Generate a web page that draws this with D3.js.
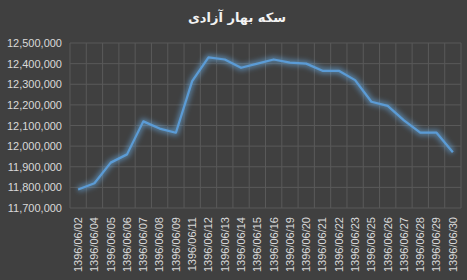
<!DOCTYPE html>
<html>
<head>
<meta charset="utf-8">
<script src="https://cdn.jsdelivr.net/npm/d3@7"></script>
<style>
  body { margin: 0; background: #404040; }
  .tick-label { font-family: "Liberation Sans", Arial, sans-serif; font-size: 11px; fill: #d9d9d9; }
  .title { font-family: "DejaVu Sans", sans-serif; font-size: 13px; font-weight: bold; fill: #f2f2f2; }
</style>
</head>
<body>
<div id="chart"></div>
<script>
// Dates (Jalali) shown on the x axis
const dates = ['1396/06/02', '1396/06/04', '1396/06/05', '1396/06/06', '1396/06/07', '1396/06/08',
  '1396/06/09', '1396/06/11', '1396/06/12', '1396/06/13', '1396/06/14', '1396/06/15',
  '1396/06/16', '1396/06/19', '1396/06/20', '1396/06/21', '1396/06/22', '1396/06/23',
  '1396/06/25', '1396/06/26', '1396/06/27', '1396/06/28', '1396/06/29', '1396/06/30'];

// Coin price (Rial)
const prices = [11790000, 11820000, 11920000, 11960000, 12120000, 12085000,
  12065000, 12315000, 12430000, 12420000, 12380000, 12400000,
  12420000, 12405000, 12400000, 12365000, 12365000, 12320000,
  12215000, 12195000, 12125000, 12065000, 12065000, 11970000];

const yTicks = [11700000, 11800000, 11900000, 12000000, 12100000, 12200000, 12300000, 12400000, 12500000];
const chartTitle = 'سکه بهار آزادی';

const width = 467, height = 280;
const margin = { top: 43, right: 6, bottom: 72, left: 70 };
const innerW = width - margin.left - margin.right;
const innerH = height - margin.top - margin.bottom;

const svg = d3.select('#chart').append('svg')
  .attr('width', width)
  .attr('height', height);

svg.append('rect')
  .attr('width', width)
  .attr('height', height)
  .attr('fill', '#404040');

// soft glow round the line
const defs = svg.append('defs');
defs.append('filter')
  .attr('id', 'glow')
  .attr('x', '-20%').attr('y', '-30%')
  .attr('width', '140%').attr('height', '160%')
  .append('feGaussianBlur')
  .attr('stdDeviation', 2.8);

svg.append('text')
  .attr('class', 'title')
  .attr('x', 237)
  .attr('y', 22)
  .attr('text-anchor', 'middle')
  .attr('direction', 'rtl')
  .text(chartTitle);

const g = svg.append('g')
  .attr('transform', `translate(${margin.left},${margin.top})`);

const x = d3.scaleBand()
  .domain(dates)
  .range([0, innerW]);

const y = d3.scaleLinear()
  .domain([11700000, 12500000])
  .range([innerH, 0]);

// horizontal grid
g.selectAll('.hgrid')
  .data(yTicks)
  .join('line')
  .attr('x1', 0).attr('x2', innerW)
  .attr('y1', d => y(d)).attr('y2', d => y(d))
  .attr('stroke', '#595959')
  .attr('stroke-width', 1);

// vertical grid at category boundaries
const bounds = dates.map(d => x(d)).concat([innerW]);
g.selectAll('.vgrid')
  .data(bounds)
  .join('line')
  .attr('x1', d => d).attr('x2', d => d)
  .attr('y1', 0).attr('y2', innerH)
  .attr('stroke', '#595959')
  .attr('stroke-width', 1);

// y axis labels
const yAxis = d3.axisLeft(y)
  .tickValues(yTicks)
  .tickSize(0)
  .tickPadding(8)
  .tickFormat(d3.format(','));
const yg = g.append('g').call(yAxis);
yg.select('.domain').remove();
yg.selectAll('text').attr('class', 'tick-label').attr('fill', null).attr('font-size', null).attr('font-family', null);

// x axis labels, rotated
const xAxis = d3.axisBottom(x).tickSize(0).tickPadding(0);
const xg = g.append('g')
  .attr('transform', `translate(0,${innerH})`)
  .call(xAxis);
xg.select('.domain').remove();
xg.selectAll('text')
  .attr('class', 'tick-label')
  .attr('fill', null).attr('font-size', null).attr('font-family', null)
  .attr('transform', 'rotate(-90)')
  .attr('text-anchor', 'end')
  .attr('x', -9)
  .attr('y', 0)
  .attr('dy', '0.35em');

// line
const line = d3.line()
  .x((d, i) => x(dates[i]) + x.bandwidth() / 2)
  .y(d => y(d));

g.append('path')
  .datum(prices)
  .attr('d', line)
  .attr('fill', 'none')
  .attr('stroke', '#6aaee8')
  .attr('stroke-opacity', 0.55)
  .attr('stroke-width', 6)
  .attr('stroke-linejoin', 'round')
  .attr('filter', 'url(#glow)');

g.append('path')
  .datum(prices)
  .attr('d', line)
  .attr('fill', 'none')
  .attr('stroke', '#5b9bd5')
  .attr('stroke-width', 2.25)
  .attr('stroke-linejoin', 'round');
</script>
</body>
</html>
